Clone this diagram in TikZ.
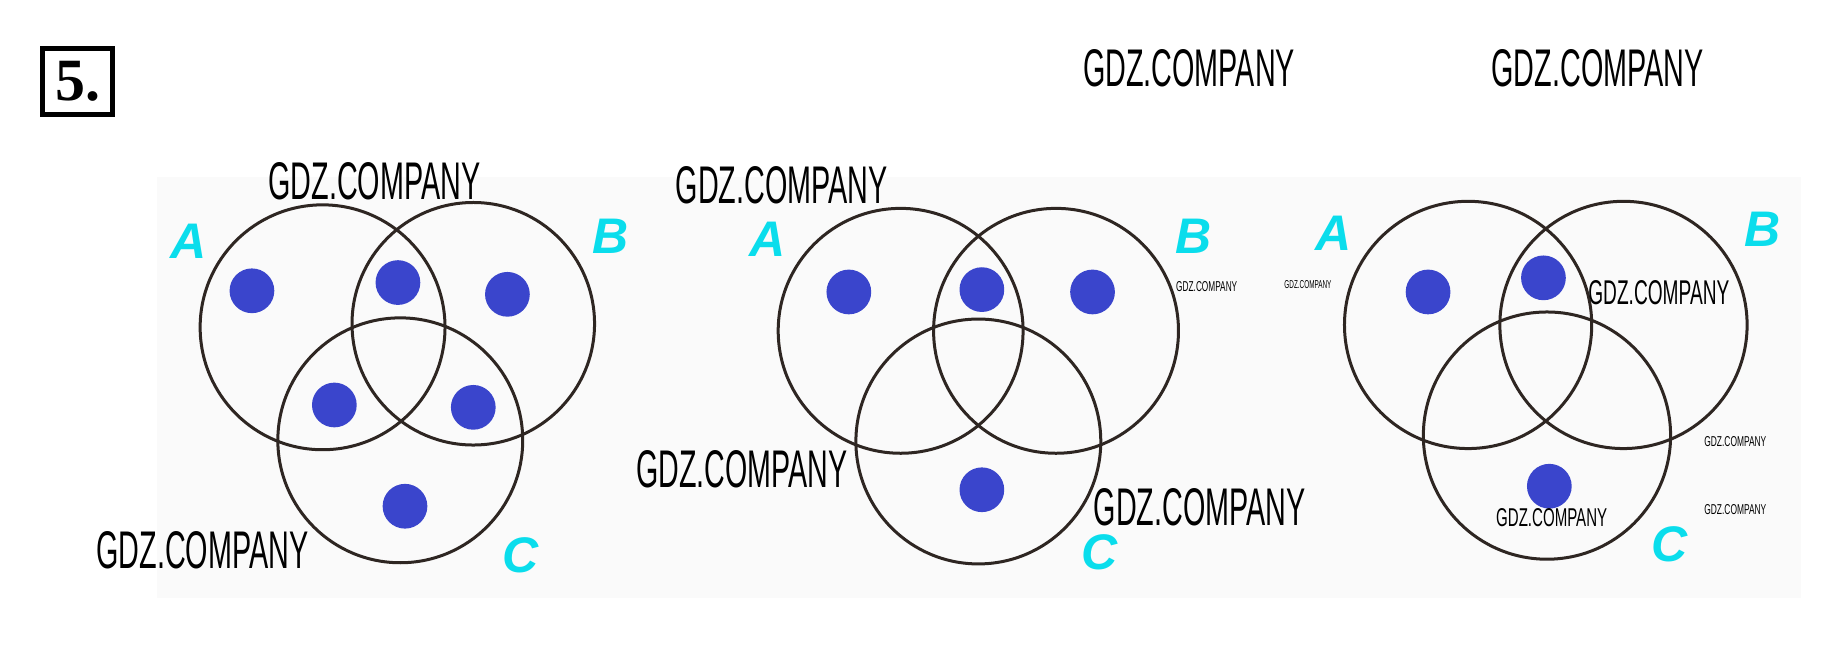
\documentclass[tikz,border=0pt]{standalone}
\usepackage{fontspec}
\setmainfont{Liberation Sans}
\newfontfamily\wmfont{Liberation Sans}
\newfontfamily\numfont{Liberation Serif}
\definecolor{ringcol}{HTML}{2E2622}
\definecolor{dotcol}{HTML}{3A45CC}
\definecolor{labcol}{HTML}{0ADDEC}
\newcommand{\wmark}[2]{\resizebox{#1}{#2}{\wmfont GDZ.COMPANY}}
\begin{document}
\begin{tikzpicture}[x=1.1773pt,y=-1.1773pt,
  ring/.style={draw=ringcol,line width=3pt},
  spot/.style={fill=dotcol},
  setlabel/.style={text=labcol,font=\fontsize{50}{50}\selectfont\bfseries\itshape,inner sep=0pt,anchor=center},
  wm/.style={inner sep=0pt,anchor=center,text=black}]
\useasboundingbox (0,0) rectangle (1568,548);
\fill[white] (0,0) rectangle (1568,548);
\fill[gray!4] (133,150) rectangle (1530,508);
% problem number
\node[draw=black,line width=5pt,minimum width=70pt,minimum height=66pt,inner sep=0pt,font=\numfont\bfseries\fontsize{60}{60}\selectfont] (num) at (66,69) {5.};
% ---------- diagram 1 ----------
\draw[ring] (274,278) circle[radius=104];
\draw[ring] (402,275) circle[radius=103];
\draw[ring] (340,374) circle[radius=104];
\fill[spot] (214,247) circle[radius=19];
\fill[spot] (338,240) circle[radius=19];
\fill[spot] (431,250) circle[radius=19];
\fill[spot] (284,344) circle[radius=19];
\fill[spot] (402,346) circle[radius=19];
\fill[spot] (344,430) circle[radius=19];
\node[setlabel] (a1) at (160,205) {A};
\node[setlabel] (b1) at (519,201) {B};
\node[setlabel] (c1) at (442,472) {C};
% ---------- diagram 2 ----------
\draw[ring] (765,281) circle[radius=104];
\draw[ring] (897,281) circle[radius=104];
\draw[ring] (831,375) circle[radius=104];
\fill[spot] (721,248) circle[radius=19];
\fill[spot] (834,246) circle[radius=19];
\fill[spot] (928,248) circle[radius=19];
\fill[spot] (834,416) circle[radius=19];
\node[setlabel] (a2) at (652,203) {A};
\node[setlabel] (b2) at (1014,201) {B};
\node[setlabel] (c2) at (934,469) {C};
% ---------- diagram 3 ----------
\draw[ring] (1247,276) circle[radius=105];
\draw[ring] (1379,276) circle[radius=105];
\draw[ring] (1314,370) circle[radius=105];
\fill[spot] (1213,248) circle[radius=19];
\fill[spot] (1311,236) circle[radius=19];
\fill[spot] (1316,413) circle[radius=19];
\node[setlabel] (a3) at (1133,198) {A};
\node[setlabel] (b3) at (1497,195) {B};
\node[setlabel] (c3) at (1418,462) {C};
% ---------- watermarks ----------
\node[wm] (w1) at (1010,58) {\wmark{212pt}{37pt}};
\node[wm] (w2) at (1357,58) {\wmark{212pt}{37pt}};
\node[wm] (w3) at (318,154) {\wmark{212pt}{37pt}};
\node[wm] (w4) at (664,157) {\wmark{212pt}{37pt}};
\node[wm] (w5) at (630,399) {\wmark{211pt}{37pt}};
\node[wm] (w6) at (172,467) {\wmark{212pt}{37pt}};
\node[wm] (w7) at (1019,431) {\wmark{212pt}{37pt}};
\node[wm] (w8) at (1409,249) {\wmark{141pt}{24pt}};
\node[wm] (w9) at (1318,440) {\wmark{111pt}{18pt}};
\node[wm] (w10) at (1474,375) {\wmark{62pt}{10pt}};
\node[wm] (w11) at (1474,433) {\wmark{62pt}{10pt}};
\node[wm] (w12) at (1111,242) {\wmark{47pt}{8pt}};
\node[wm] (w13) at (1025,243) {\wmark{61pt}{10pt}};
\end{tikzpicture}
\end{document}
